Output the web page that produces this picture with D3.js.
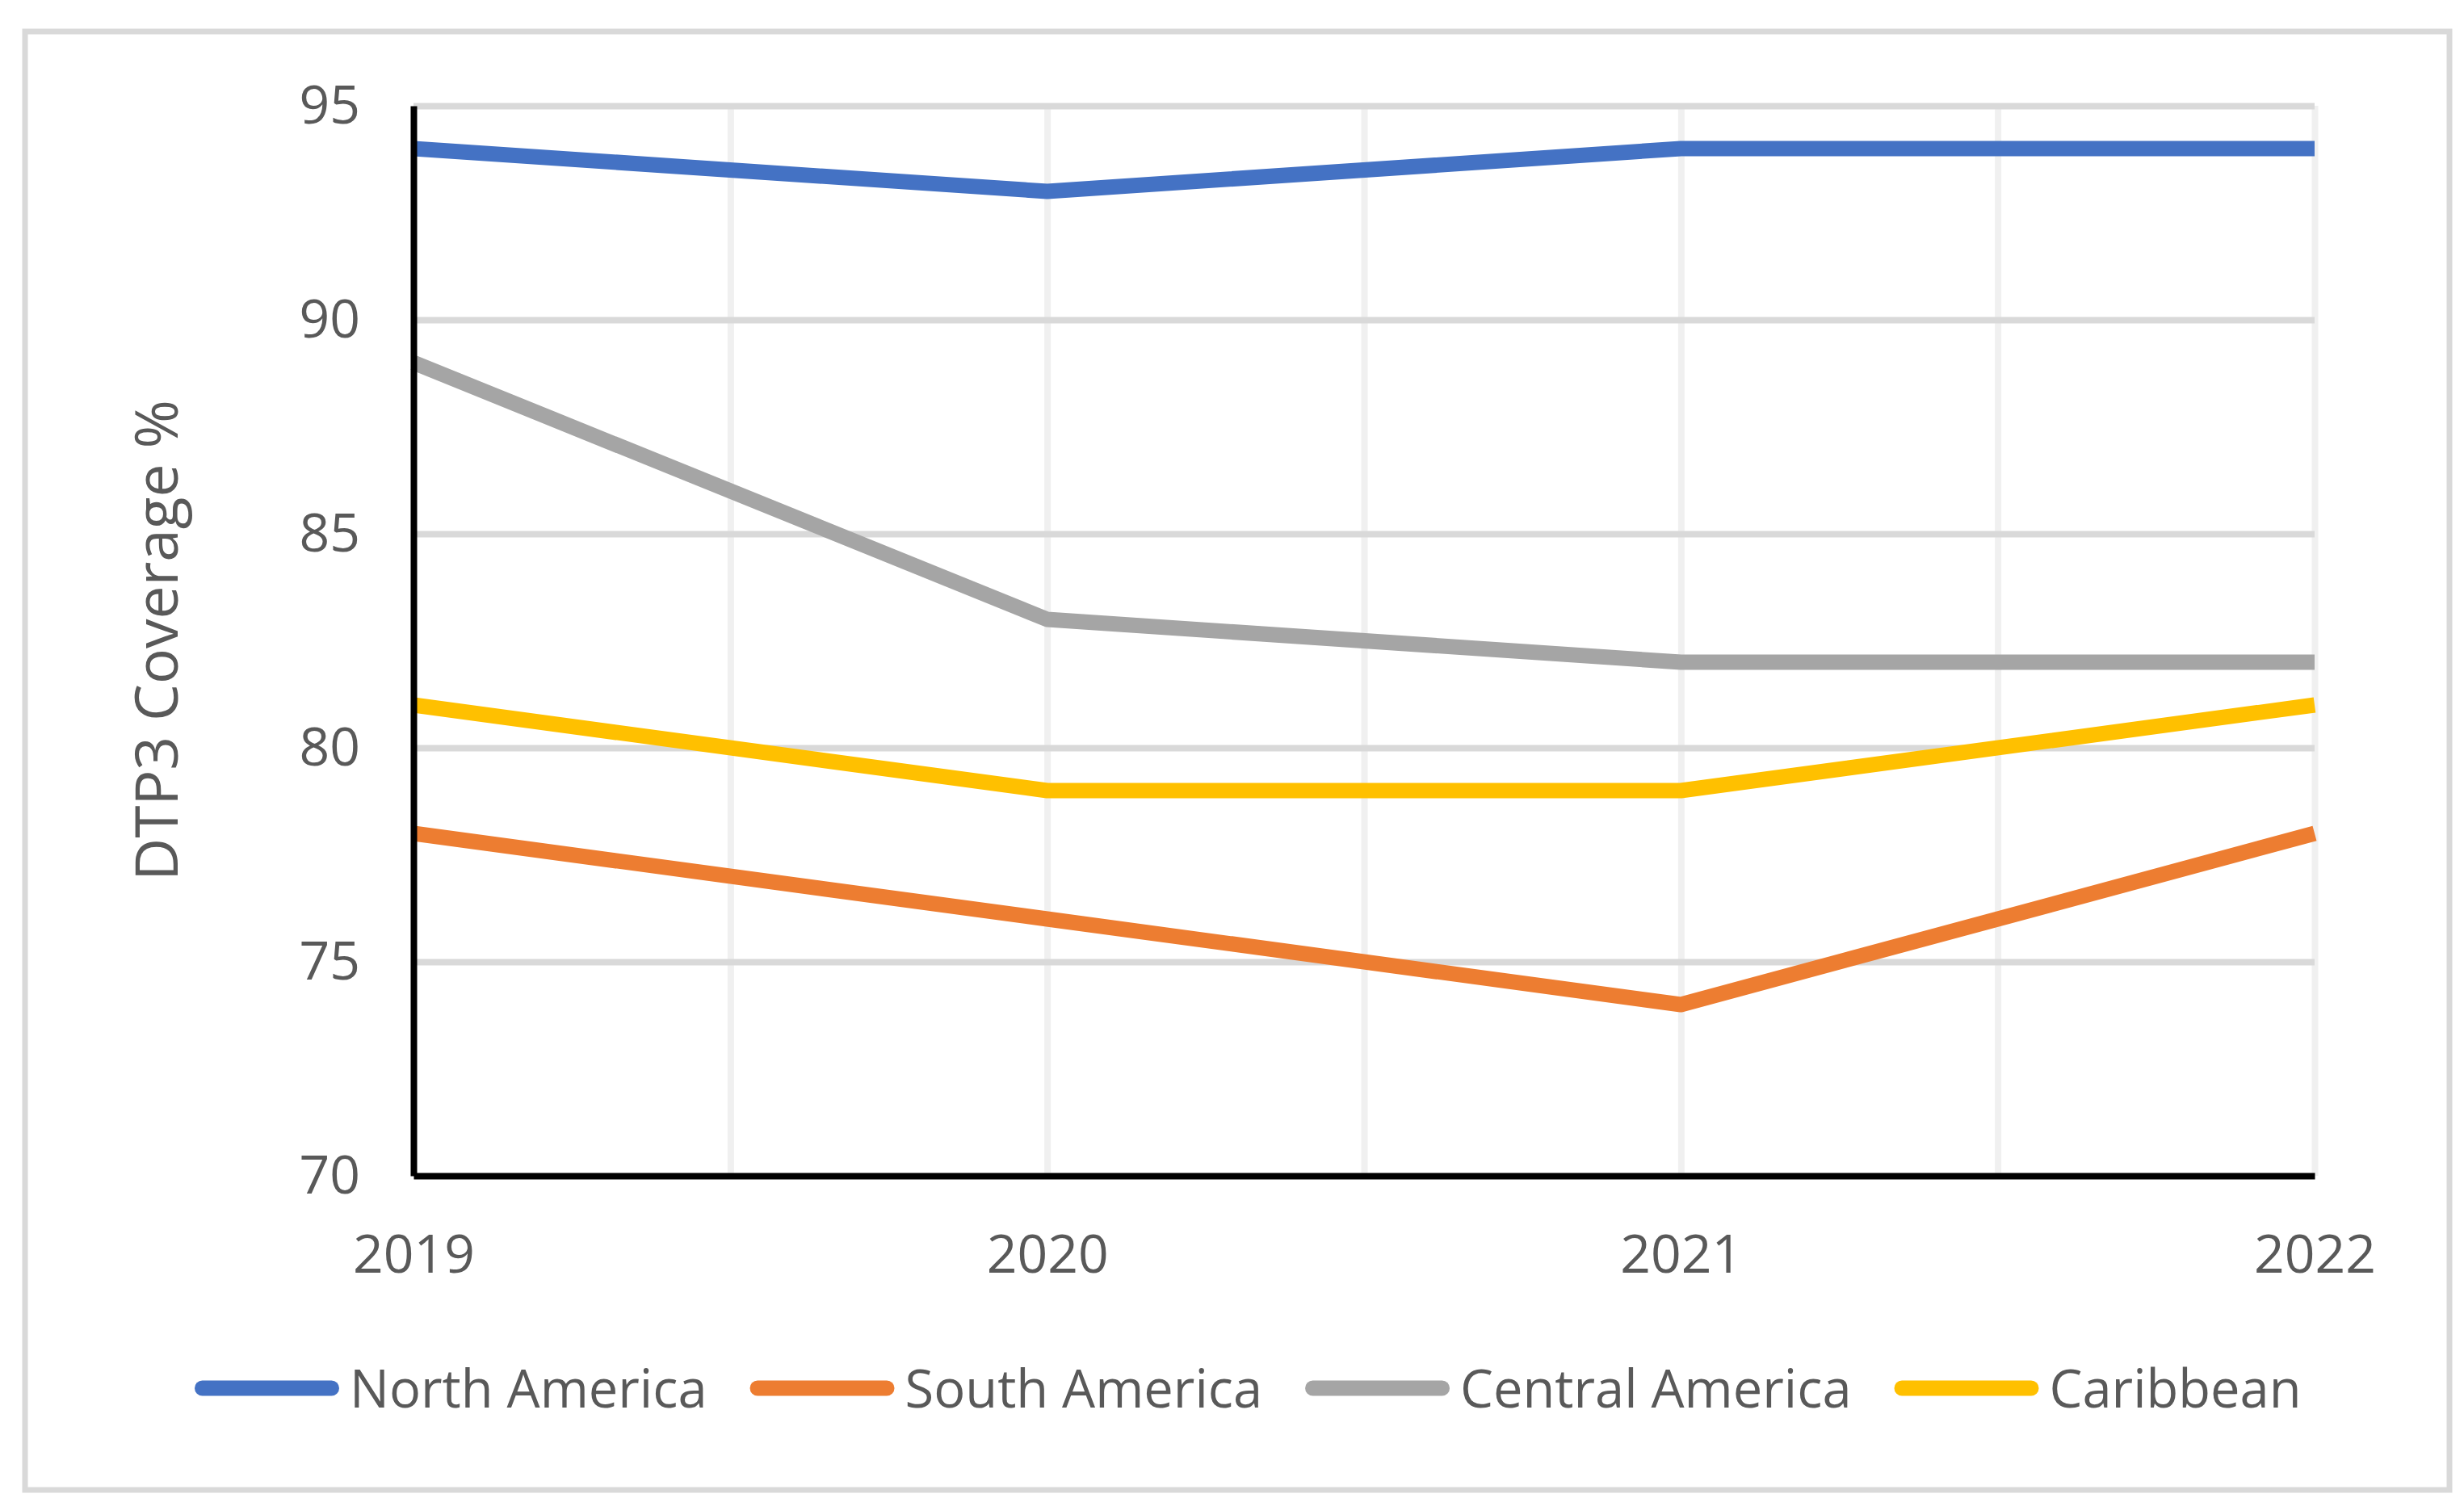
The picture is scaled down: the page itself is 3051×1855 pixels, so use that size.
<html>
  <head>
    <meta charset="UTF-8">
    <script src="https://d3js.org/d3.v7.min.js"></script>
    <style type="text/css">
    body {
      margin: 0;
      background: #fff;
      font-family: 'Open Sans', sans-serif;
    }
    </style>
  </head>
  <body>
  </body>
  <script>
    // data
    var years = ["2019", "2020", "2021", "2022"];
    var northAmerica = [94, 93, 94, 94];
    var southAmerica = [78, 76, 74, 78];
    var centralAmerica = [89, 83, 82, 82];
    var caribbean = [81, 79, 79, 81];
    var yTicks = [70, 75, 80, 85, 90, 95];

    var series = [
      {name: "North America", values: northAmerica, color: "#4472C4"},
      {name: "South America", values: southAmerica, color: "#ED7D31"},
      {name: "Central America", values: centralAmerica, color: "#A5A5A5"},
      {name: "Caribbean", values: caribbean, color: "#FFC000"}
    ];

    var W = 3051, H = 1855;
    var margin = {top: 131, right: 185, bottom: 399, left: 512},
        width = W - margin.left - margin.right,
        height = H - margin.top - margin.bottom;

    var svg = d3.select("body")
      .append("svg")
        .attr("width", W)
        .attr("height", H);

    // outer chart border
    svg.append("rect")
      .attr("x", 31).attr("y", 39)
      .attr("width", 3002).attr("height", 1806)
      .attr("fill", "#fff")
      .attr("stroke", "#d9d9d9")
      .attr("stroke-width", 7);

    var g = svg.append("g")
      .attr("transform", "translate(" + margin.left + "," + margin.top + ")");

    // x by category index, so half-step gridlines are easy
    var x = d3.scaleLinear()
      .domain([0, years.length - 1])
      .range([0, width]);

    var y = d3.scaleLinear()
      .domain([70, 95])
      .range([height, 0]);

    // vertical gridlines (every half category)
    g.append("g")
      .attr("transform", "translate(0," + height + ")")
      .call(d3.axisBottom(x).tickValues(d3.range(0.5, years.length - 0.99, 0.5))
        .tickSize(-height).tickFormat(""))
      .call(function(s) {
        s.select(".domain").remove();
        s.selectAll("line").attr("stroke", "#f0f0f0").attr("stroke-width", 8);
      });

    // horizontal gridlines
    g.append("g")
      .call(d3.axisLeft(y).tickValues(yTicks.slice(1)).tickSize(-width).tickFormat(""))
      .call(function(s) {
        s.select(".domain").remove();
        s.selectAll("line").attr("stroke", "#d9d9d9").attr("stroke-width", 8);
      });

    // the lines
    var line = d3.line()
      .x(function(d, i) { return x(i); })
      .y(function(d) { return y(d); });

    g.selectAll(".series")
      .data(series)
      .enter().append("path")
        .attr("class", "series")
        .attr("fill", "none")
        .attr("stroke", function(d) { return d.color; })
        .attr("stroke-width", 19)
        .attr("stroke-linejoin", "round")
        .attr("d", function(d) { return line(d.values); });

    // axes
    g.append("g")
      .attr("transform", "translate(0," + height + ")")
      .call(d3.axisBottom(x).tickValues(d3.range(years.length))
        .tickFormat(function(i) { return years[i]; })
        .tickSize(0).tickPadding(73))
      .call(function(s) {
        s.select(".domain").attr("stroke", "#000").attr("stroke-width", 8);
        s.selectAll("text")
          .attr("fill", "#595959")
          .style("font-family", "'Open Sans', sans-serif")
          .style("font-size", "66px");
      });

    g.append("g")
      .call(d3.axisLeft(y).tickValues(yTicks).tickSize(0).tickPadding(66))
      .call(function(s) {
        s.select(".domain").attr("stroke", "#000").attr("stroke-width", 8);
        s.selectAll("text")
          .attr("fill", "#595959")
          .style("font-family", "'Open Sans', sans-serif")
          .style("font-size", "66px");
      });

    // y axis title
    svg.append("text")
      .attr("transform", "translate(220,793) rotate(-90)")
      .attr("text-anchor", "middle")
      .attr("fill", "#595959")
      .style("font-size", "73px")
      .text("DTP3 Coverage %");

    // legend, laid out left to right
    var legend = svg.append("g");
    var lx = 241, ly = 1719;
    series.forEach(function(s) {
      legend.append("line")
        .attr("x1", lx + 9.5).attr("x2", lx + 179 - 9.5)
        .attr("y1", ly).attr("y2", ly)
        .attr("stroke", s.color)
        .attr("stroke-width", 19)
        .attr("stroke-linecap", "round");
      var t = legend.append("text")
        .attr("x", lx + 179 + 13)
        .attr("y", ly + 24)
        .attr("fill", "#595959")
        .style("font-size", "65px")
        .text(s.name);
      lx = lx + 179 + 13 + t.node().getComputedTextLength() + 53;
    });
  </script>
</html>
